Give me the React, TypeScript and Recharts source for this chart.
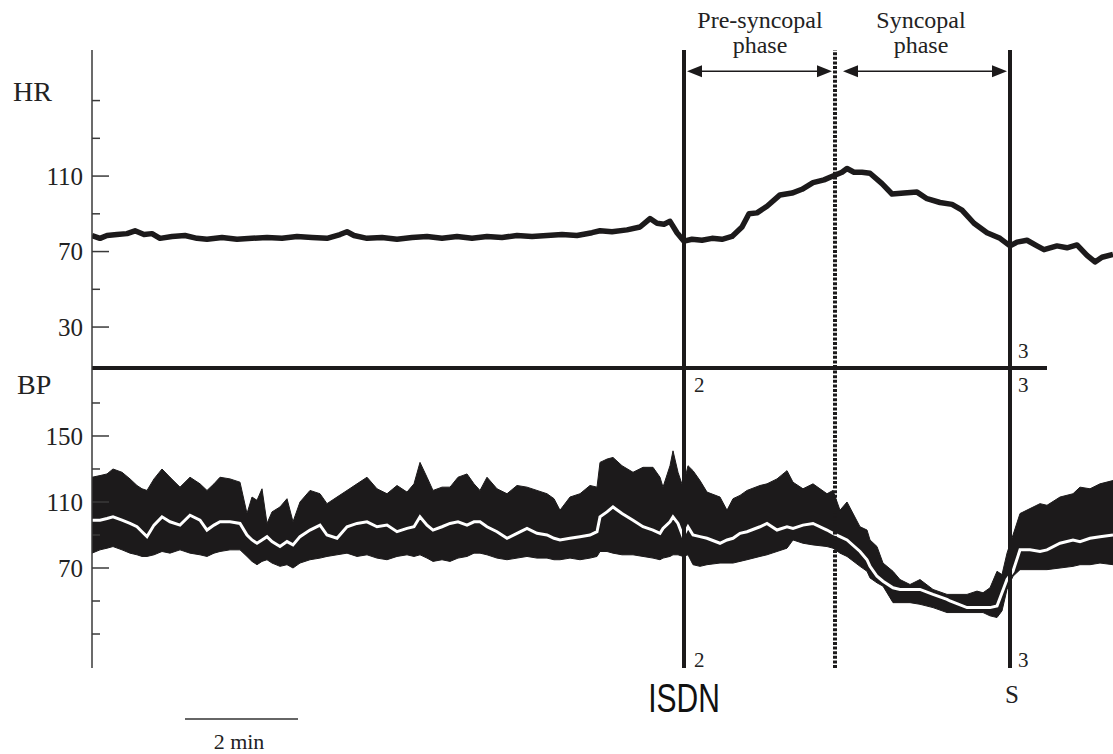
import { ComposedChart, Line, Area, XAxis, YAxis, ReferenceLine } from 'recharts';

// time in seconds from left edge of the trace, HR in beats/min
const hrTime = [0,8,15,25,35,43,52,60,68,80,93,105,115,130,145,160,175,190,205,220,235,248,255,262,275,290,305,320,335,350,365,380,395,410,425,440,455,470,485,500,508,520,535,548,558,565,572,578,585,592,600,610,620,630,640,650,657,665,675,688,700,710,721,732,741,750,755,762,770,778,790,800,812,825,835,848,860,870,882,895,908,918,925,935,945,952,965,975,985,995,1003,1010,1021];
const hrValue = [78.5,77,78.5,79,79.5,81,79,79.5,77,78,78.5,77,76.5,77.5,76.5,77,77.5,77,78,77.5,77,79,80.5,78.5,77,77.5,76.5,77.5,78,77,78,77,78,77.5,78.5,78,78.5,79,78.5,80,81,80.5,81.5,83,87.5,85,84.5,86,80,75.5,76.5,76,77,76.5,78,83,90,90.5,94,100,101,103,106.5,108,110,112,114,112,112,111.5,106,100.5,101,101.5,98,96,95,92,85,80,77,73,75,76,73,71,73,72,73.5,68,64.5,67,68.5];

// blood pressure envelope (systolic / diastolic) and mean
const bpTime = [0,8,15,21,30,38,45,50,55,62,70,78,88,98,108,115,122,128,138,148,155,160,165,170,175,180,188,195,201,208,218,228,235,245,255,265,275,285,295,305,315,322,328,335,341,350,358,366,375,382,388,395,405,415,425,435,445,455,462,468,478,488,498,505,508,515,521,530,541,551,561,568,571,578,581,586,591,596,601,608,615,628,635,641,648,655,668,675,685,695,701,711,721,735,741,748,755,768,775,778,785,791,801,808,818,828,841,855,858,875,885,891,898,905,910,915,921,928,938,948,955,968,981,988,998,1008,1021];
const bpHigh = [125,126,127,130,128,124,120,118,117,124,130,125,119,125,121,117,121,125,124,122,103,113,111,118,97,104,107,112,98,110,117,115,109,113,117,121,125,118,115,120,116,121,134,125,117,119,119,125,127,121,117,125,118,115,120,119,117,115,112,105,113,115,120,119,134,136,137,132,128,131,131,125,119,132,141,128,119,132,129,123,116,113,105,112,114,117,120,121,124,129,122,118,121,115,117,105,110,95,93,87,83,73,68,63,60,63,57,54,54,54,56,55,58,68,66,79,90,103,106,109,108,113,115,119,118,121,123];
const bpLow = [79,81,82,83,81,79,78,77,77,78,80,79,81,79,78,77,79,80,81,81,77,74,72,74,75,73,71,72,70,73,75,76,77,78,79,77,78,76,75,77,78,77,78,76,74,75,74,76,77,79,79,78,76,75,76,77,76,76,75,75,76,75,76,77,80,80,79,78,78,77,76,75,76,77,78,78,77,78,72,71,72,73,73,73,74,75,77,78,80,82,87,85,84,83,82,79,77,71,68,64,61,59,49,49,49,48,46,43,43,43,43,43,41,40,44,57,65,69,69,69,69,70,71,72,72,73,72];
const bpMean = [99,99,100,101,99,97,95,92,89,96,101,98,96,102,99,93,96,98,98,97,90,87,85,87,89,86,83,86,84,89,93,96,90,88,95,97,98,95,96,92,94,95,101,96,93,95,97,98,96,98,98,95,92,88,91,94,91,90,88,87,88,89,90,92,101,104,107,103,99,95,93,91,94,98,101,97,89,95,90,89,88,85,87,88,91,92,95,97,93,95,94,96,97,93,91,89,87,80,75,71,65,62,58,57,57,57,54,51,50,46,46,46,46,47,55,63,68,81,81,80,81,85,87,86,88,89,90];

const hrTicks = [30, 50, 70, 90, 110, 130, 150];
const hrLabeled = [30, 70, 110];
const bpTicks = [30, 50, 70, 90, 110, 130, 150, 170];
const bpLabeled = [70, 110, 150];

const T_ISDN = 592;
const T_PRESYNC_END = 743;
const T_SYNCOPE = 918;

const X_DOMAIN: [number, number] = [0, 1021];
const HR_DOMAIN: [number, number] = [8.3, 176.8];
const BP_DOMAIN: [number, number] = [9.4, 191.2];

const INK = '#1c1a1b';
const SERIF = "'Liberation Serif', 'DejaVu Serif', serif";

const hrData = hrTime.map((t, i) => ({ t, hr: hrValue[i] }));
const bpData = bpTime.map((t, i) => ({ t, range: [bpLow[i], bpHigh[i]], mean: bpMean[i] }));

function makeTick(labeled: number[]) {
  return (props: any) => {
    const { x, y, payload } = props;
    const major = labeled.includes(payload.value);
    return (
      <g>
        <line x1={x} x2={x + (major ? 17 : 8)} y1={y} y2={y} stroke="#3a3a3a" strokeWidth={1.5} />
        {major && (
          <text x={x - 9} y={y} dy="0.35em" textAnchor="end" fontFamily={SERIF} fontSize={25} fill="#222">
            {payload.value}
          </text>
        )}
      </g>
    );
  };
}

function ArrowShape(props: any) {
  const { x1, y1, x2 } = props;
  const h = 15;
  const w = 6;
  return (
    <g>
      <line x1={x1 + h} x2={x2 - h} y1={y1} y2={y1} stroke={INK} strokeWidth={1.5} />
      <polygon points={`${x1},${y1} ${x1 + h},${y1 - w} ${x1 + h},${y1 + w}`} fill={INK} />
      <polygon points={`${x2},${y1} ${x2 - h},${y1 - w} ${x2 - h},${y1 + w}`} fill={INK} />
    </g>
  );
}

function EventLines() {
  return [
    <ReferenceLine key="a" x={T_ISDN} stroke={INK} strokeWidth={4} ifOverflow="visible" />,
    <ReferenceLine key="b" x={T_PRESYNC_END} stroke={INK} strokeWidth={4} strokeDasharray="3 1.6" ifOverflow="visible" />,
    <ReferenceLine key="c" x={T_SYNCOPE} stroke={INK} strokeWidth={4} ifOverflow="visible" />,
  ];
}

export default function App() {
  const arrowY = 165.6;
  return (
    <div style={{ position: 'absolute', left: 0, top: 0, width: 1113, height: 754, background: '#fff' }}>
      <div style={{ position: 'absolute', left: 0, top: 0 }}>
        <ComposedChart width={1113} height={372} data={hrData} margin={{ top: 50, right: 0, bottom: 4, left: 0 }}>
          <XAxis dataKey="t" type="number" domain={X_DOMAIN} hide allowDataOverflow />
          <YAxis
            type="number"
            domain={HR_DOMAIN}
            ticks={hrTicks}
            interval={0}
            width={92}
            allowDataOverflow
            tickSize={0}
            tickMargin={0}
            axisLine={{ stroke: '#3a3a3a', strokeWidth: 1.5 }}
            tickLine={false}
            tick={makeTick(hrLabeled)}
          />
          {EventLines()}
          <ReferenceLine
            segment={[{ x: 0, y: HR_DOMAIN[0] }, { x: 955, y: HR_DOMAIN[0] }]}
            stroke={INK}
            strokeWidth={4}
            ifOverflow="visible"
          />
          <ReferenceLine
            segment={[{ x: T_ISDN + 3, y: arrowY }, { x: T_PRESYNC_END - 3, y: arrowY }]}
            shape={ArrowShape}
            ifOverflow="visible"
          />
          <ReferenceLine
            segment={[{ x: T_PRESYNC_END + 8, y: arrowY }, { x: T_SYNCOPE - 3, y: arrowY }]}
            shape={ArrowShape}
            ifOverflow="visible"
          />
          <Line
            dataKey="hr"
            type="linear"
            stroke={INK}
            strokeWidth={5.5}
            strokeLinejoin="round"
            dot={false}
            isAnimationActive={false}
          />
        </ComposedChart>
      </div>
      <div style={{ position: 'absolute', left: 0, top: 368 }}>
        <ComposedChart width={1113} height={300} data={bpData} margin={{ top: 0, right: 0, bottom: 0, left: 0 }}>
          <XAxis dataKey="t" type="number" domain={X_DOMAIN} hide allowDataOverflow />
          <YAxis
            type="number"
            domain={BP_DOMAIN}
            ticks={bpTicks}
            interval={0}
            width={92}
            allowDataOverflow
            tickSize={0}
            tickMargin={0}
            axisLine={{ stroke: '#3a3a3a', strokeWidth: 1.5 }}
            tickLine={false}
            tick={makeTick(bpLabeled)}
          />
          <Area
            dataKey="range"
            type="linear"
            stroke={INK}
            strokeWidth={1}
            fill={INK}
            fillOpacity={1}
            isAnimationActive={false}
          />
          <Line
            dataKey="mean"
            type="linear"
            stroke="#ffffff"
            strokeWidth={3}
            dot={false}
            isAnimationActive={false}
          />
          {EventLines()}
        </ComposedChart>
      </div>
      <svg
        width={1113}
        height={754}
        style={{ position: 'absolute', left: 0, top: 0, pointerEvents: 'none' }}
        fontFamily={SERIF}
        fill="#222"
      >
        <text x={13} y={101} fontSize={28}>HR</text>
        <text x={17} y={394} fontSize={28}>BP</text>
        <text x={760} y={28} fontSize={24} textAnchor="middle">Pre-syncopal</text>
        <text x={760} y={53} fontSize={24} textAnchor="middle">phase</text>
        <text x={921} y={28} fontSize={24} textAnchor="middle">Syncopal</text>
        <text x={921} y={53} fontSize={24} textAnchor="middle">phase</text>
        <text x={694} y={392} fontSize={21}>2</text>
        <text x={694} y={667} fontSize={21}>2</text>
        <text x={1018} y={358} fontSize={21}>3</text>
        <text x={1018} y={392} fontSize={21}>3</text>
        <text x={1018} y={667} fontSize={21}>3</text>
        <text x={1012} y={703} fontSize={25} textAnchor="middle">S</text>
        <text
          x={0}
          y={0}
          fontSize={40}
          textAnchor="middle"
          fontFamily="'Liberation Sans', Arial, sans-serif"
          fill="#111"
          transform="translate(684 712) scale(0.75 1)"
        >
          ISDN
        </text>
        <line x1={185} x2={298} y1={719} y2={719} stroke="#333" strokeWidth={1.5} />
        <text x={239} y={749} fontSize={22} textAnchor="middle">2 min</text>
      </svg>
    </div>
  );
}
